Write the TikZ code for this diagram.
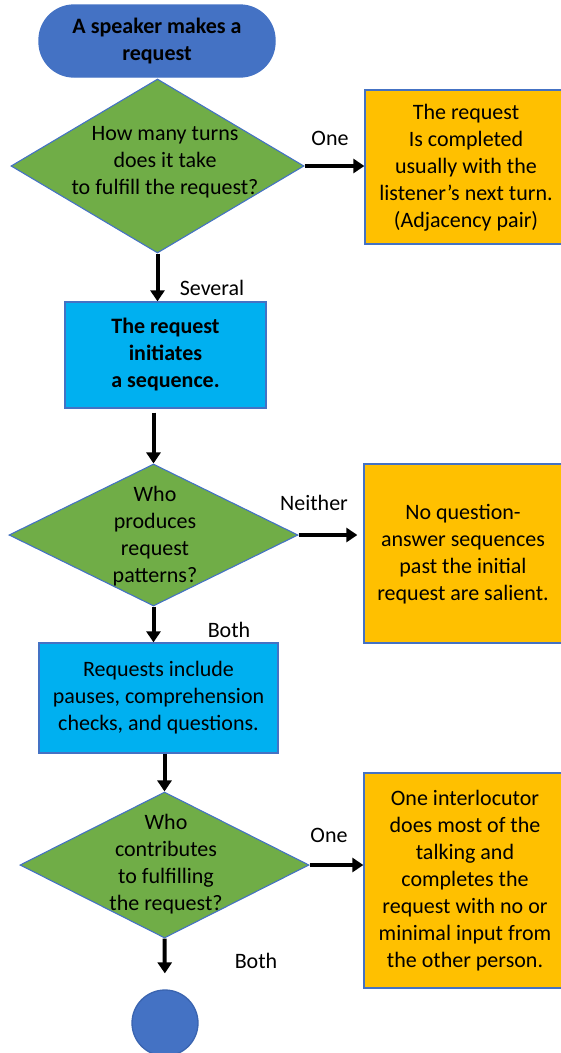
\documentclass[tikz,border=0pt]{standalone}
\usepackage{fontspec}
\setmainfont{Carlito}
\usetikzlibrary{shapes.geometric,arrows.meta}
\definecolor{cblue}{HTML}{4472C4}
\definecolor{cblueD}{HTML}{3A64B0}
\definecolor{ccyan}{HTML}{00B0F0}
\definecolor{corange}{HTML}{FFC000}
\definecolor{cgreen}{HTML}{70AD47}
\tikzset{
  every node/.style={font=\fontsize{22}{27}\selectfont, text=black},
  txt/.style={align=center, inner sep=0pt},
  boxshape/.style={draw=cblue, line width=1.3pt, minimum width=#1, inner sep=0pt},
  decision/.style={diamond, draw=cblue, fill=cgreen, line width=1.1pt, inner sep=0pt},
  flow/.style={line width=4pt, -{Triangle[length=11pt,width=14pt]}},
  lab/.style={inner sep=0pt}
}
\begin{document}
\begin{tikzpicture}[x=1pt,y=-1pt]
\useasboundingbox (0,0) rectangle (560,1053);
% start terminal
\node[draw=cblue, fill=cblue, line width=1.3pt, rounded corners=35pt, minimum width=236pt, minimum height=72pt, inner sep=0pt, align=center, font=\fontsize{22}{27}\selectfont\bfseries] (start) at (157,41) {A speaker makes a\\request};
% decision 1
\node[decision, minimum width=293pt, minimum height=174pt] (d1) at (157.5,166) {};
\node[txt] (d1t) at (165,162) {How many turns\\does it take\\to fulfill the request?};
% box1
\node[boxshape=200pt, fill=corange, minimum height=154pt] (b1) at (465,167) {};
\node[txt] (b1t) at (466,168) {The request\\Is completed\\usually with the\\listener’s next turn.\\(Adjacency pair)};
% box2
\node[boxshape=201pt, fill=ccyan, minimum height=106pt, align=center, font=\fontsize{22}{27}\selectfont\bfseries] (b2) at (165.5,355) {The request\\initiates\\a sequence.};
% decision 2
\node[decision, minimum width=289pt, minimum height=142pt] (d2) at (153.5,535) {};
\node[txt] (d2t) at (155,536) {Who\\produces\\request\\patterns?};
% box3
\node[boxshape=201pt, fill=corange, minimum height=179pt] (b3) at (464.5,553.5) {};
\node[txt] (b3t) at (463,554) {No question-\\answer sequences\\past the initial\\request are salient.};
% box4
\node[boxshape=239pt, fill=ccyan, minimum height=110pt, align=center] (b4) at (158.5,698) {Requests include\\pauses, comprehension\\checks, and questions.};
% decision 3
\node[decision, minimum width=289pt, minimum height=146pt] (d3) at (164.5,865) {};
\node[txt] (d3t) at (166,864) {Who\\contributes\\to fulfilling\\the request?};
% box5
\node[boxshape=201pt, fill=corange, minimum height=215pt] (b5) at (464.5,880.5) {};
\node[txt] (b5t) at (465,881) {One interlocutor\\does most of the\\talking and\\completes the\\request with no or\\minimal input from\\the other person.};
% end circle
\node[circle, draw=cblueD, fill=cblue, line width=1.3pt, minimum size=66pt, inner sep=0pt] (end) at (165,1023) {};
% connectors
\draw[flow] (d1.south) -- (d1.south |- b2.north);
\draw[flow] (d1.east) -- (b1.west |- d1.east);
\draw[flow] ([yshift=-4pt]d2.north |- b2.south) -- (d2.north);
\draw[flow, shorten >=6pt] (d2.east) -- (b3.west |- d2.east);
\draw[flow] (d2.south) -- (d2.south |- b4.north);
\draw[flow] (d3.north |- b4.south) -- (d3.north);
\draw[flow] (d3.east) -- (b5.west |- d3.east);
\draw[flow, shorten >=16pt] (d3.south) -- (end.north);
% labels
\node[lab] (l1) at (330,138) {One};
\node[lab] (l2) at (212,288) {Several};
\node[lab] (l3) at (314,503) {Neither};
\node[lab] (l4) at (229,630) {Both};
\node[lab] (l5) at (329,835) {One};
\node[lab] (l6) at (256,961) {Both};
\end{tikzpicture}
\end{document}
